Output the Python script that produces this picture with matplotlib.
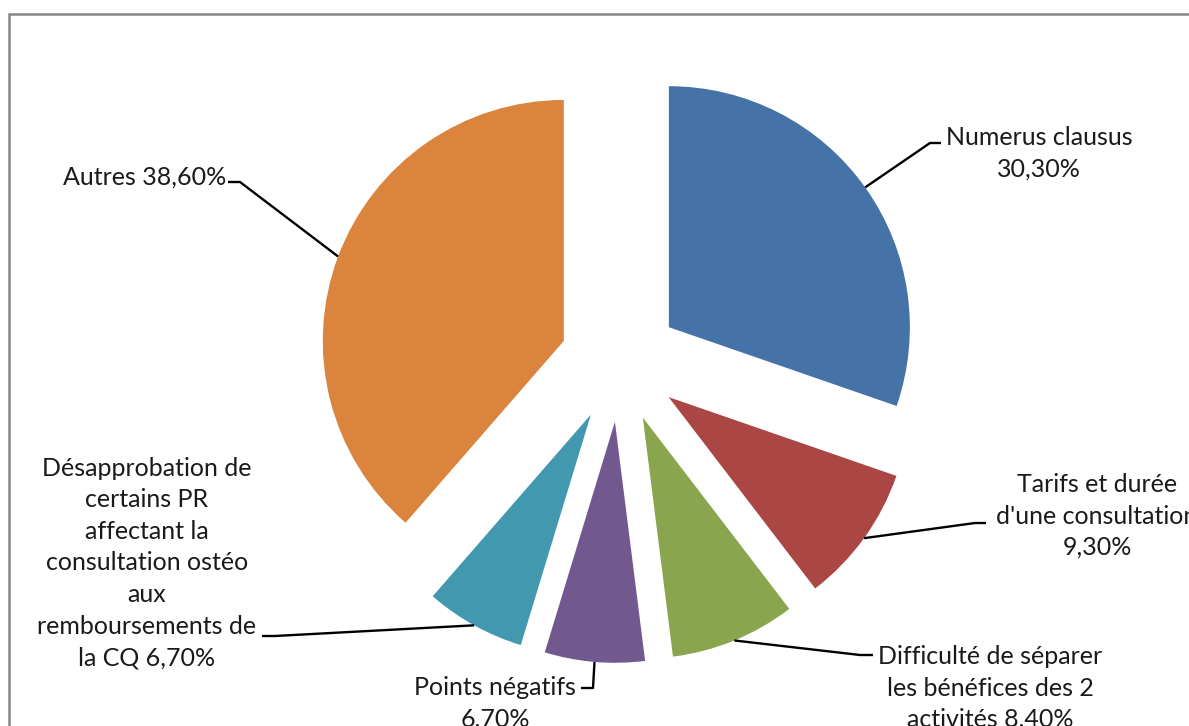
import numpy as np
import matplotlib.pyplot as plt
from matplotlib.patches import Rectangle

plt.rcParams['font.family'] = ['Lato', 'DejaVu Sans']

# causes, in clockwise order from 12 o'clock
causes = ["Numerus clausus",
          "Tarifs et durée\nd'une consultation",
          "Difficulté de séparer\nles bénéfices des 2\nactivités",
          "Points négatifs",
          "Désapprobation de\ncertains PR\naffectant la\nconsultation ostéo\naux\nremboursements de\nla CQ",
          "Autres"]
shares = [30.3, 9.3, 8.4, 6.7, 6.7, 38.6]
label_sep = ["\n", "\n", " ", "\n", " ", " "]
colors = ['#4572A7', '#AA4643', '#89A54E', '#71588F', '#4198AF', '#DB843D']

W, H = 1189, 726


def px(x, y):
    # pixel position (origin top left) -> data coords
    return x, H - y


# label placement: text centre, elbow of leader, end of leader (pixels)
text_pos = [(1039, 153), (1097, 516), (990, 688), (495, 703), (147, 563), (145, 177)]
elbows = [(930, 143), (975, 523), (860, 655), (593, 688), (275, 636), (240, 182)]
ends = [(941, 143), (986, 523), (873, 655), (581, 688), (262, 636), (228, 182)]

fig = plt.figure(figsize=(W / 100, H / 100), dpi=100)
ax = fig.add_axes([0, 0, 1, 1])

radius = 241
wedges, _ = ax.pie(shares, colors=colors, startangle=90, counterclock=False,
                   radius=radius, center=px(620, 362), explode=[60] * len(shares),
                   wedgeprops=dict(linewidth=0), frame=False)
ax.set_xlim(0, W)
ax.set_ylim(0, H)
ax.set_aspect('equal')
ax.axis('off')

# chart area border, cut off on the right and bottom
ax.add_patch(Rectangle(px(9, 14 + 800), 1400, 800, fill=False,
                       edgecolor='#878787', linewidth=1.8, clip_on=True))

for w, name, v, sep, tp, el, en in zip(wedges, causes, shares, label_sep,
                                       text_pos, elbows, ends):
    mid = np.deg2rad((w.theta1 + w.theta2) / 2)
    cx, cy = w.center
    anchor = (cx + w.r * np.cos(mid), cy + w.r * np.sin(mid))
    e1, e2 = px(*el), px(*en)
    ax.plot([anchor[0], e1[0], e2[0]], [anchor[1], e1[1], e2[1]],
            color='black', lw=1.7, solid_capstyle='butt')
    label = name + sep + f"{v:.2f}%".replace('.', ',')
    ax.text(*px(*tp), label, ha='center', va='center', multialignment='center',
            fontsize=18, color='#1a1a1a', linespacing=1.45)

fig.savefig('out.png', dpi=100)
